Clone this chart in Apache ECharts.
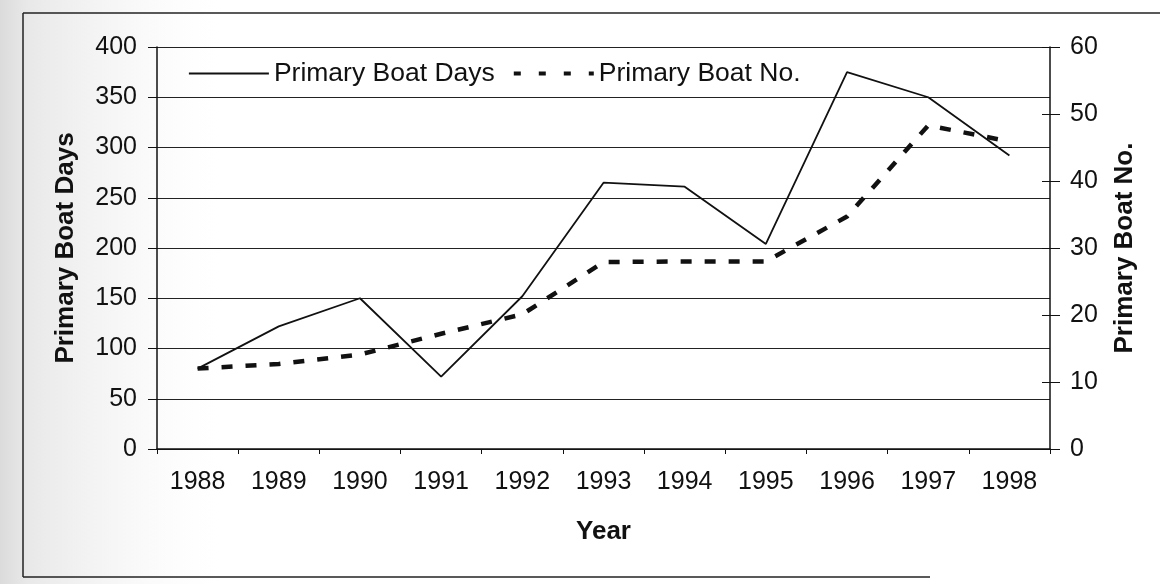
<!DOCTYPE html>
<html>
<head>
<meta charset="utf-8">
<title>Primary Boat Days and Primary Boat No., 1988–1998</title>
<script src="https://cdn.jsdelivr.net/npm/echarts@6/dist/echarts.min.js"></script>
<style>
  html, body { margin: 0; padding: 0; background: #fff; }
  #chart { width: 1160px; height: 584px; }
</style>
</head>
<body>
<div id="chart"></div>
<script>
// Yearly series
const years = ['1988', '1989', '1990', '1991', '1992', '1993', '1994', '1995', '1996', '1997', '1998'];
const boatDays = [80, 122, 150, 72, 152, 265, 261, 204, 375, 350, 292];
const boatNo = [12, 12.7, 14.1, 17.2, 20.1, 27.9, 28, 28, 34.7, 48.3, 45.9];

// Axis ranges
const daysAxis = { min: 0, max: 400, interval: 50 };
const noAxis = { min: 0, max: 60, interval: 10 };

const FONT = '"Liberation Sans", Arial, sans-serif';
const INK = '#111';

const chart = echarts.init(document.getElementById('chart'), null, { renderer: 'canvas' });

chart.setOption({
  backgroundColor: '#fff',
  animation: false,
  textStyle: { fontFamily: FONT, color: INK },
  graphic: [
    // light halftone shading toward the left edge
    {
      type: 'rect', z: -10, silent: true,
      shape: { x: 0, y: 0, width: 230, height: 584 },
      style: {
        fill: new echarts.graphic.LinearGradient(0, 0, 1, 0, [
          { offset: 0, color: 'rgba(175,175,175,0.45)' },
          { offset: 0.12, color: 'rgba(185,185,185,0.32)' },
          { offset: 0.5, color: 'rgba(200,200,200,0.16)' },
          { offset: 0.8, color: 'rgba(220,220,220,0.05)' },
          { offset: 1, color: 'rgba(255,255,255,0)' }
        ])
      }
    },
    // chart frame
    { type: 'line', z: -5, silent: true, shape: { x1: 23, y1: 13, x2: 1160, y2: 13 }, style: { stroke: '#222', lineWidth: 1.5 } },
    { type: 'line', z: -5, silent: true, shape: { x1: 23, y1: 13, x2: 23, y2: 577 }, style: { stroke: '#222', lineWidth: 1.5 } },
    { type: 'line', z: -5, silent: true, shape: { x1: 23, y1: 577, x2: 930, y2: 577 }, style: { stroke: '#222', lineWidth: 1.5 } }
  ],
  grid: { left: 157, right: 110, top: 47, bottom: 135, containLabel: false },
  legend: {
    left: 183,
    top: 55,
    itemWidth: 80,
    itemHeight: 14,
    itemGap: 17,
    textStyle: { fontFamily: FONT, fontSize: 26.5, color: INK },
    data: [
      {
        name: 'Primary Boat Days',
        lineStyle: { color: INK, width: 1.8, type: 'solid' },
        itemStyle: { opacity: 0 }
      },
      {
        name: 'Primary Boat No.',
        lineStyle: { color: INK, width: 4, type: [7, 18] },
        itemStyle: { opacity: 0 }
      }
    ]
  },
  xAxis: {
    type: 'category',
    data: years,
    boundaryGap: true,
    name: 'Year',
    nameLocation: 'middle',
    nameGap: 70,
    nameTextStyle: { fontFamily: FONT, fontSize: 26, fontWeight: 'bold', color: INK },
    axisLine: { show: true, lineStyle: { color: INK, width: 1.5 } },
    axisTick: { show: true, inside: false, length: 5, alignWithLabel: false, lineStyle: { color: INK } },
    axisLabel: { fontFamily: FONT, fontSize: 25, color: INK, margin: 21 },
    splitLine: { show: false }
  },
  yAxis: [
    {
      type: 'value',
      position: 'left',
      min: daysAxis.min, max: daysAxis.max, interval: daysAxis.interval,
      name: 'Primary Boat Days',
      nameLocation: 'middle',
      nameRotate: 90,
      nameGap: 78,
      nameTextStyle: { fontFamily: FONT, fontSize: 26, fontWeight: 'bold', color: INK },
      axisLine: { show: true, lineStyle: { color: INK, width: 1.5 } },
      axisTick: { show: true, inside: false, length: 9, lineStyle: { color: INK } },
      axisLabel: { fontFamily: FONT, fontSize: 25, color: INK, margin: 20 },
      splitLine: { show: true, lineStyle: { color: '#222', width: 1.2 } }
    },
    {
      type: 'value',
      position: 'right',
      min: noAxis.min, max: noAxis.max, interval: noAxis.interval,
      name: 'Primary Boat No.',
      nameLocation: 'middle',
      nameRotate: 90,
      nameGap: 62,
      nameTextStyle: { fontFamily: FONT, fontSize: 26, fontWeight: 'bold', color: INK },
      axisLine: { show: true, lineStyle: { color: INK, width: 1.5 } },
      axisTick: { show: true, inside: false, length: 10, lineStyle: { color: INK } },
      axisLabel: { fontFamily: FONT, fontSize: 25, color: INK, margin: 20 },
      splitLine: { show: false }
    },
    {
      // inner half of the crossing ticks on the right axis
      type: 'value',
      position: 'right',
      min: noAxis.min, max: noAxis.max, interval: noAxis.interval,
      axisLine: { show: false },
      axisTick: { show: true, inside: true, length: 8, lineStyle: { color: INK } },
      axisLabel: { show: false },
      splitLine: { show: false }
    }
  ],
  series: [
    {
      name: 'Primary Boat Days',
      type: 'line',
      yAxisIndex: 0,
      data: boatDays,
      symbol: 'none',
      lineStyle: { color: INK, width: 1.8, type: 'solid' },
      itemStyle: { color: INK },
      z: 3
    },
    {
      name: 'Primary Boat No.',
      type: 'line',
      yAxisIndex: 1,
      data: boatNo,
      symbol: 'none',
      lineStyle: { color: INK, width: 4.5, type: [11, 13], cap: 'butt' },
      itemStyle: { color: INK },
      z: 2
    }
  ]
});
</script>
</body>
</html>
